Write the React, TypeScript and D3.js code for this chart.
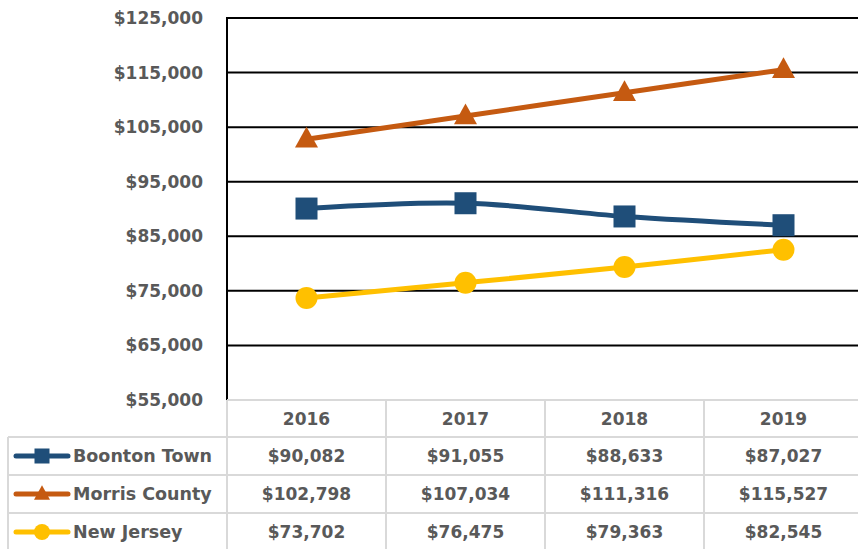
import React from "react";
import * as d3 from "d3";

const years = ["2016", "2017", "2018", "2019"];
const seriesNames = ["Boonton Town", "Morris County", "New Jersey"];
const boonton = [90082, 91055, 88633, 87027];
const morris = [102798, 107034, 111316, 115527];
const newJersey = [73702, 76475, 79363, 82545];
const yTicks = [55000, 65000, 75000, 85000, 95000, 105000, 115000, 125000];
const colors = ["#1F4E79", "#C55A11", "#FFC000"];
const markers = ["square", "triangle", "circle"];

const W = 858;
const H = 549;
const plotLeft = 227;
const plotRight = 863;
const plotTop = 18;
const plotBottom = 400;
const rowH = 38;
const tableLeft = 8;
const textColor = "#595959";
const gridColor = "#D9D9D9";
const font = "'DejaVu Sans', sans-serif";

function Marker({ type, x, y, size, color }: { type: string; x: number; y: number; size: number; color: string }) {
  if (type === "square") {
    return <rect x={x - size / 2} y={y - size / 2} width={size} height={size} fill={color} />;
  }
  if (type === "circle") {
    return <circle cx={x} cy={y} r={size / 2} fill={color} />;
  }
  const h = size * 0.9;
  return (
    <path
      d={`M${x},${y - h * 0.6} L${x + size / 2},${y + h * 0.4} L${x - size / 2},${y + h * 0.4} Z`}
      fill={color}
    />
  );
}

export default function App() {
  React.useEffect(() => {
    document.body.style.margin = "0";
  }, []);
  const data = [boonton, morris, newJersey];
  const x = d3.scaleBand<string>().domain(years).range([plotLeft, plotRight]);
  const y = d3.scaleLinear().domain([55000, 125000]).range([plotBottom, plotTop]);
  const cx = (yr: string) => (x(yr) as number) + x.bandwidth() / 2;
  const line = d3
    .line<number>()
    .x((_, i) => cx(years[i]))
    .y((v) => y(v))
    .curve(d3.curveCatmullRom.alpha(0.5));
  const fmt = (v: number) => "$" + d3.format(",")(v);

  const tableTop = plotBottom;
  const tableBottom = tableTop + rowH * 4 + 2;

  return (
    <svg width={W} height={H} style={{ display: "block", background: "#fff" }}>
      {/* gridlines */}
      {yTicks.map((t) => (
        <line key={t} x1={plotLeft} x2={W} y1={y(t)} y2={y(t)} stroke="#000" strokeWidth={2} />
      ))}
      {/* y tick labels */}
      {yTicks.map((t) => (
        <text
          key={"l" + t}
          x={203}
          y={y(t)}
          textAnchor="end"
          dominantBaseline="central"
          fontFamily={font}
          fontWeight="bold"
          fontSize={17}
          fill={textColor}
        >
          {fmt(t)}
        </text>
      ))}
      {/* left axis */}
      <line x1={plotLeft} x2={plotLeft} y1={plotTop - 1} y2={plotBottom} stroke="#000" strokeWidth={2} />

      {/* table grid */}
      <g stroke={gridColor} strokeWidth={2}>
        <line x1={plotLeft} x2={W} y1={tableTop} y2={tableTop} />
        {[1, 2, 3].map((r) => (
          <line key={r} x1={tableLeft} x2={W} y1={tableTop + rowH * r - 1} y2={tableTop + rowH * r - 1} />
        ))}
        <line x1={tableLeft} x2={W} y1={tableBottom} y2={tableBottom} />
        <line x1={tableLeft} x2={tableLeft} y1={tableTop + rowH - 1} y2={tableBottom} />
        {years.map((yr) => (
          <line key={yr} x1={x(yr) as number} x2={x(yr) as number} y1={tableTop} y2={tableBottom} />
        ))}
      </g>

      {/* header years */}
      {years.map((yr) => (
        <text
          key={"h" + yr}
          x={cx(yr)}
          y={tableTop + rowH / 2}
          textAnchor="middle"
          dominantBaseline="central"
          fontFamily={font}
          fontWeight="bold"
          fontSize={17}
          fill={textColor}
        >
          {yr}
        </text>
      ))}

      {/* table rows */}
      {seriesNames.map((name, si) => {
        const ry = tableTop + rowH * (si + 1) + rowH / 2 - 1;
        return (
          <g key={name}>
            <line x1={16} x2={68} y1={ry} y2={ry} stroke={colors[si]} strokeWidth={5} strokeLinecap="round" />
            <Marker type={markers[si]} x={42} y={ry} size={markers[si] === "square" ? 15 : 16} color={colors[si]} />
            <text
              x={73}
              y={ry}
              dominantBaseline="central"
              fontFamily={font}
              fontWeight="bold"
              fontSize={17.5}
              fill={textColor}
            >
              {name}
            </text>
            {data[si].map((v, i) => (
              <text
                key={i}
                x={cx(years[i])}
                y={ry}
                textAnchor="middle"
                dominantBaseline="central"
                fontFamily={font}
                fontWeight="bold"
                fontSize={17}
                fill={textColor}
              >
                {fmt(v)}
              </text>
            ))}
          </g>
        );
      })}

      {/* series lines */}
      {data.map((vals, si) => (
        <g key={"s" + si}>
          <path d={line(vals) as string} fill="none" stroke={colors[si]} strokeWidth={5} strokeLinejoin="round" />
          {vals.map((v, i) => (
            <Marker key={i} type={markers[si]} x={cx(years[i])} y={y(v)} size={markers[si] === "triangle" ? 23 : 22} color={colors[si]} />
          ))}
        </g>
      ))}
    </svg>
  );
}
